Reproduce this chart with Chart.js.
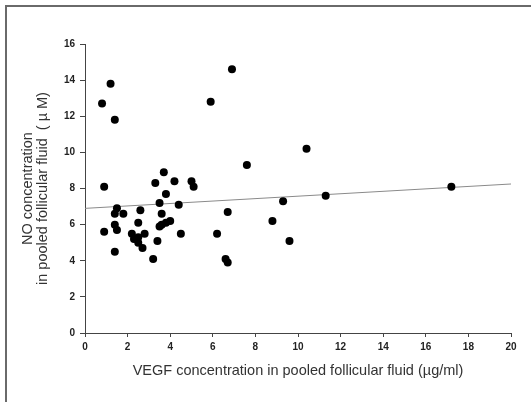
<!DOCTYPE html>
<html>
<head>
<meta charset="utf-8">
<script src="https://cdn.jsdelivr.net/npm/chart.js@4"></script>
<style>
  html, body { margin: 0; padding: 0; background: #fff; }
  #wrap { position: relative; width: 531px; height: 402px; overflow: hidden; }
  #frame { position: absolute; left: 5px; top: 5px; right: -10px; bottom: -10px;
           border-left: 2px solid #6a6a6a; border-top: 2px solid #6a6a6a; }
  canvas { position: absolute; left: 0; top: 0; }
</style>
</head>
<body>
<div id="wrap">
  <div id="frame"></div>
  <canvas id="c" width="531" height="402"></canvas>
</div>
<script>
// ── data ──────────────────────────────────────────────
const vegf = [0.8, 1.2, 1.4, 0.9, 0.9, 1.4, 1.5, 1.4, 1.5, 1.4, 1.8,
              2.2, 2.3, 2.5, 2.5, 2.5, 2.6, 2.7, 2.8, 3.2, 3.3, 3.4,
              3.5, 3.6, 3.5, 3.7, 3.8, 3.6, 3.8, 4.0, 4.2, 4.4, 4.5,
              5.0, 5.1, 5.9, 6.2, 6.6, 6.7, 6.7, 6.9, 7.6, 8.8, 9.3,
              9.6, 10.4, 11.3, 17.2];
const no    = [12.7, 13.8, 11.8, 8.1, 5.6, 6.6, 6.9, 6.0, 5.7, 4.5, 6.6,
               5.5, 5.2, 6.1, 5.3, 5.0, 6.8, 4.7, 5.5, 4.1, 8.3, 5.1,
               7.2, 6.6, 5.9, 8.9, 7.7, 6.0, 6.1, 6.2, 8.4, 7.1, 5.5,
               8.4, 8.1, 12.8, 5.5, 4.1, 3.9, 6.7, 14.6, 9.3, 6.2, 7.3,
               5.1, 10.2, 7.6, 8.1];
const trendX = [0, 20];
const trendY = [6.9, 8.25];
const xTicks = [0, 2, 4, 6, 8, 10, 12, 14, 16, 18, 20];
const yTicks = [0, 2, 4, 6, 8, 10, 12, 14, 16];

const FONT = "'Liberation Sans', Arial, sans-serif";

new Chart(document.getElementById('c'), {
  type: 'scatter',
  data: {
    datasets: [
      {
        data: vegf.map((x, i) => ({ x, y: no[i] })),
        backgroundColor: '#000',
        borderColor: '#000',
        pointRadius: 4,
        pointBorderWidth: 0,
      },
      {
        type: 'line',
        data: trendX.map((x, i) => ({ x, y: trendY[i] })),
        borderColor: '#8a8a8a',
        borderWidth: 1,
        pointRadius: 0,
        fill: false,
      },
    ],
  },
  options: {
    responsive: false,
    animation: false,
    layout: { padding: { left: 21, top: 44, right: 20, bottom: 18 } },
    plugins: { legend: { display: false }, tooltip: { enabled: false } },
    scales: {
      x: {
        type: 'linear',
        min: 0, max: 20,
        afterBuildTicks: s => { s.ticks = xTicks.map(v => ({ value: v })); },
        afterFit: s => { s.height = 402 - 18 - 333; },
        border: { color: '#444', width: 1 },
        grid: { drawOnChartArea: false, tickLength: 4, color: '#444' },
        ticks: { color: '#222', padding: 4, maxRotation: 0,
                 font: { family: FONT, size: 10, weight: 'bold' } },
        title: { display: true, text: 'VEGF concentration in pooled follicular fluid (\u00b5g/ml)',
                 color: '#333', padding: { top: 3 }, font: { family: FONT, size: 14.5 } },
      },
      y: {
        min: 0, max: 16,
        afterBuildTicks: s => { s.ticks = yTicks.map(v => ({ value: v })); },
        afterFit: s => { s.width = 85 - 21; },
        border: { color: '#444', width: 1 },
        grid: { drawOnChartArea: false, tickLength: 5, color: '#444' },
        ticks: { color: '#222', padding: 5,
                 font: { family: FONT, size: 10, weight: 'bold' } },
        title: { display: true, text: ['NO concentration', 'in pooled follicular fluid  ( \u00b5 M)'],
                 color: '#333', padding: { top: 0, bottom: 0 }, font: { family: FONT, size: 14.5, lineHeight: 1.0 } },
      },
    },
  },
});
</script>
</body>
</html>
